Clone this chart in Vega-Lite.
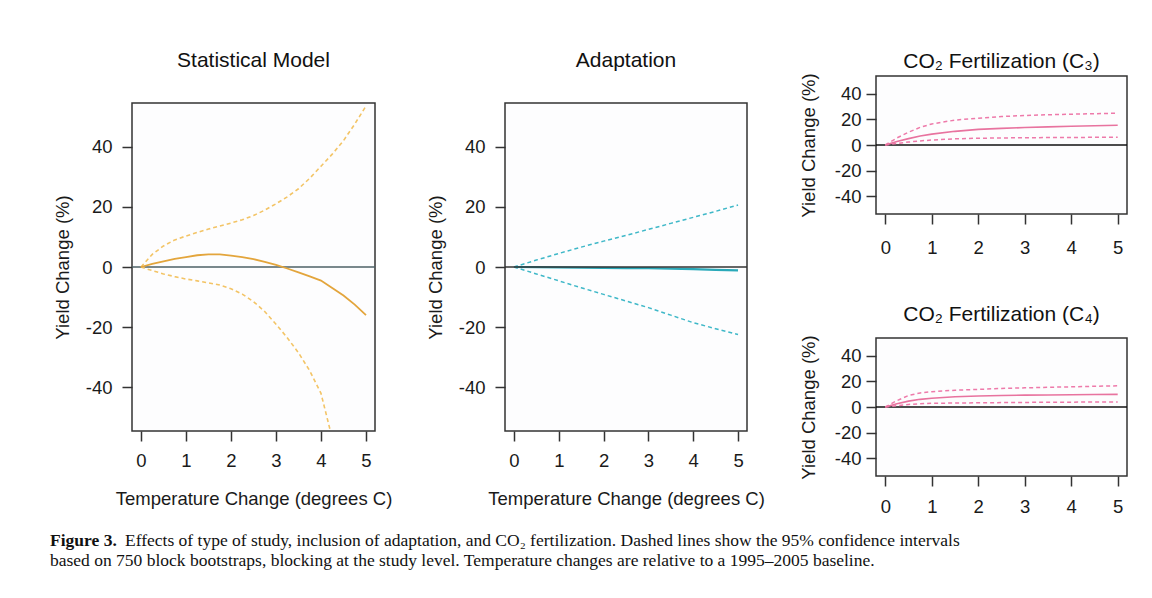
{
  "$schema": "https://vega.github.io/schema/vega-lite/v6.json",
  "padding": {"left": 50, "top": 50, "right": 0, "bottom": 0},
  "background": "white",
  "config": {
    "view": {"stroke": "#333333", "strokeWidth": 1.5, "fill": "#fdfdfe"},
    "axis": {"labelFont": "Liberation Sans", "labelFontSize": 18.5, "labelColor": "#1a1a1a", "labelOverlap": false, "tickCount": 10, "labelExpr": "'' + datum.value", "titleFont": "Liberation Sans", "titleFontSize": 18.5, "titleFontWeight": "normal", "titleColor": "#1a1a1a", "tickColor": "#333333", "tickWidth": 1.5, "tickSize": 10, "domain": false, "grid": false},
    "title": {"font": "Liberation Sans", "fontSize": 21, "fontWeight": "normal", "color": "#111111", "anchor": "middle"}
  },
  "datasets": {
    "curves": [
      {"p": "stat", "t": 0, "est": 0, "up": 0, "lo": 0},
      {"p": "stat", "t": 0.25, "est": 1.0, "up": 4.2, "lo": -1.2},
      {"p": "stat", "t": 0.5, "est": 1.9, "up": 7.0, "lo": -2.3},
      {"p": "stat", "t": 0.75, "est": 2.7, "up": 9.0, "lo": -3.2},
      {"p": "stat", "t": 1, "est": 3.3, "up": 10.3, "lo": -4.0},
      {"p": "stat", "t": 1.25, "est": 3.9, "up": 11.5, "lo": -4.6},
      {"p": "stat", "t": 1.5, "est": 4.2, "up": 12.6, "lo": -5.3},
      {"p": "stat", "t": 1.75, "est": 4.2, "up": 13.6, "lo": -6.0},
      {"p": "stat", "t": 2, "est": 3.8, "up": 14.6, "lo": -7.2},
      {"p": "stat", "t": 2.25, "est": 3.3, "up": 15.7, "lo": -9.0},
      {"p": "stat", "t": 2.5, "est": 2.6, "up": 17.1, "lo": -11.5},
      {"p": "stat", "t": 2.75, "est": 1.7, "up": 18.9, "lo": -14.8},
      {"p": "stat", "t": 3, "est": 0.7, "up": 21.0, "lo": -19.0},
      {"p": "stat", "t": 3.25, "est": -0.5, "up": 23.3, "lo": -23.5},
      {"p": "stat", "t": 3.5, "est": -1.8, "up": 26.0, "lo": -28.5},
      {"p": "stat", "t": 3.75, "est": -3.1, "up": 29.5, "lo": -34.5},
      {"p": "stat", "t": 4, "est": -4.5, "up": 33.5, "lo": -42.0},
      {"p": "stat", "t": 4.25, "est": -7.0, "up": 37.5, "lo": -57.0},
      {"p": "stat", "t": 4.5, "est": -9.5, "up": 42.0, "lo": -73.0},
      {"p": "stat", "t": 4.75, "est": -12.5, "up": 47.5, "lo": -90.0},
      {"p": "stat", "t": 5, "est": -16.0, "up": 53.5, "lo": -108.0},
      {"p": "adapt", "t": 0, "est": 0, "up": 0, "lo": 0},
      {"p": "adapt", "t": 0.5, "est": -0.05, "up": 2.3, "lo": -2.3},
      {"p": "adapt", "t": 1, "est": -0.1, "up": 4.5, "lo": -4.6},
      {"p": "adapt", "t": 1.5, "est": -0.2, "up": 6.6, "lo": -6.9},
      {"p": "adapt", "t": 2, "est": -0.3, "up": 8.6, "lo": -9.1},
      {"p": "adapt", "t": 2.5, "est": -0.35, "up": 10.5, "lo": -11.3},
      {"p": "adapt", "t": 3, "est": -0.4, "up": 12.5, "lo": -13.5},
      {"p": "adapt", "t": 3.5, "est": -0.55, "up": 14.5, "lo": -16.0},
      {"p": "adapt", "t": 4, "est": -0.7, "up": 16.5, "lo": -18.5},
      {"p": "adapt", "t": 4.5, "est": -0.95, "up": 18.5, "lo": -20.5},
      {"p": "adapt", "t": 5, "est": -1.1, "up": 20.6, "lo": -22.4},
      {"p": "c3", "t": 0, "est": 0, "up": 0, "lo": 0},
      {"p": "c3", "t": 0.25, "est": 2.8, "up": 5.5, "lo": 1.2},
      {"p": "c3", "t": 0.5, "est": 5.0, "up": 10.0, "lo": 2.3},
      {"p": "c3", "t": 0.75, "est": 7.0, "up": 13.8, "lo": 3.2},
      {"p": "c3", "t": 1, "est": 8.5, "up": 16.5, "lo": 3.9},
      {"p": "c3", "t": 1.5, "est": 10.7, "up": 19.5, "lo": 4.8},
      {"p": "c3", "t": 2, "est": 12.2, "up": 21.0, "lo": 5.3},
      {"p": "c3", "t": 2.5, "est": 13.0, "up": 22.3, "lo": 5.5},
      {"p": "c3", "t": 3, "est": 13.7, "up": 23.1, "lo": 5.7},
      {"p": "c3", "t": 3.5, "est": 14.2, "up": 23.7, "lo": 5.8},
      {"p": "c3", "t": 4, "est": 14.7, "up": 24.1, "lo": 5.9},
      {"p": "c3", "t": 4.5, "est": 15.1, "up": 24.5, "lo": 6.0},
      {"p": "c3", "t": 5, "est": 15.4, "up": 24.9, "lo": 6.0},
      {"p": "c4", "t": 0, "est": 0, "up": 0, "lo": 0},
      {"p": "c4", "t": 0.25, "est": 2.5, "up": 5.0, "lo": 1.0},
      {"p": "c4", "t": 0.5, "est": 4.6, "up": 9.0, "lo": 2.0},
      {"p": "c4", "t": 0.75, "est": 6.0, "up": 11.0, "lo": 2.6},
      {"p": "c4", "t": 1, "est": 6.9, "up": 12.0, "lo": 2.9},
      {"p": "c4", "t": 1.5, "est": 8.0, "up": 13.1, "lo": 3.1},
      {"p": "c4", "t": 2, "est": 8.6, "up": 13.8, "lo": 3.3},
      {"p": "c4", "t": 2.5, "est": 9.0, "up": 14.5, "lo": 3.45},
      {"p": "c4", "t": 3, "est": 9.3, "up": 15.0, "lo": 3.6},
      {"p": "c4", "t": 3.5, "est": 9.45, "up": 15.4, "lo": 3.7},
      {"p": "c4", "t": 4, "est": 9.6, "up": 15.8, "lo": 3.8},
      {"p": "c4", "t": 4.5, "est": 9.75, "up": 16.2, "lo": 3.9},
      {"p": "c4", "t": 5, "est": 9.9, "up": 16.6, "lo": 4.0}
    ],
    "caption": [
      {"line": 1, "label": "Figure 3.", "text": "Effects of type of study, inclusion of adaptation, and CO₂ fertilization. Dashed lines show the 95% confidence intervals"},
      {"line": 2, "label": "", "text": "based on 750 block bootstraps, blocking at the study level. Temperature changes are relative to a 1995–2005 baseline."}
    ]
  },
  "vconcat": [
    {
      "hconcat": [
        {
          "vconcat": [
            {
              "width": 243, "height": 1,
              "title": {"text": "Statistical Model", "offset": 5},
              "view": {"stroke": null, "fill": null},
              "data": {"values": []},
              "mark": {"type": "point", "opacity": 0}
            },
            {
              "width": 243, "height": 328,
              "data": {"name": "curves"},
              "transform": [{"filter": "datum.p === 'stat'"}],
              "layer": [
                {
                  "data": {"values": [{"zero": 0}]},
                  "mark": {"type": "rule", "color": "#4d6166", "strokeWidth": 1.4},
                  "encoding": {"y": {"field": "zero", "type": "quantitative", "scale": {"domain": [-54.5, 54.5], "nice": false}}}
                },
                {
                  "transform": [{"fold": ["up", "lo"], "as": ["s", "v"]}],
                  "mark": {"type": "line", "color": "#f3c466", "strokeWidth": 1.6, "strokeDash": [4, 3], "clip": true},
                  "encoding": {
                    "x": {"field": "t", "type": "quantitative", "scale": {"domain": [-0.2, 5.2], "nice": false, "zero": false}, "axis": {"values": [0, 1, 2, 3, 4, 5], "title": "Temperature Change (degrees C)", "labelPadding": 10, "titlePadding": 20}},
                    "y": {"field": "v", "type": "quantitative", "scale": {"domain": [-54.5, 54.5], "nice": false}, "axis": {"values": [-40, -20, 0, 20, 40], "title": "Yield Change (%)", "labelPadding": 10, "titlePadding": 13}},
                    "detail": {"field": "s"}
                  }
                },
                {
                  "mark": {"type": "line", "color": "#e3a53c", "strokeWidth": 1.8, "clip": true},
                  "encoding": {
                    "x": {"field": "t", "type": "quantitative"},
                    "y": {"field": "est", "type": "quantitative"}
                  }
                }
              ]
            }
          ],
          "spacing": 25
        },
        {
          "vconcat": [
            {
              "width": 242, "height": 1,
              "title": {"text": "Adaptation", "offset": 5},
              "view": {"stroke": null, "fill": null},
              "data": {"values": []},
              "mark": {"type": "point", "opacity": 0}
            },
            {
              "width": 242, "height": 328,
              "data": {"name": "curves"},
              "transform": [{"filter": "datum.p === 'adapt'"}],
              "layer": [
                {
                  "transform": [{"fold": ["up", "lo"], "as": ["s", "v"]}],
                  "mark": {"type": "line", "color": "#3fb8c8", "strokeWidth": 1.5, "strokeDash": [4, 3], "clip": true},
                  "encoding": {
                    "x": {"field": "t", "type": "quantitative", "scale": {"domain": [-0.2, 5.2], "nice": false, "zero": false}, "axis": {"values": [0, 1, 2, 3, 4, 5], "title": "Temperature Change (degrees C)", "labelPadding": 10, "titlePadding": 20}},
                    "y": {"field": "v", "type": "quantitative", "scale": {"domain": [-54.5, 54.5], "nice": false}, "axis": {"values": [-40, -20, 0, 20, 40], "title": "Yield Change (%)", "labelPadding": 10, "titlePadding": 13}},
                    "detail": {"field": "s"}
                  }
                },
                {
                  "mark": {"type": "line", "color": "#2aa9b9", "strokeWidth": 2.2, "clip": true},
                  "encoding": {
                    "x": {"field": "t", "type": "quantitative"},
                    "y": {"field": "est", "type": "quantitative"}
                  }
                },
                {
                  "data": {"values": [{"zero": 0}]},
                  "mark": {"type": "rule", "color": "#333333", "strokeWidth": 1.3},
                  "encoding": {"y": {"field": "zero", "type": "quantitative"}}
                }
              ]
            }
          ],
          "spacing": 25
        },
        {
          "vconcat": [
            {
              "width": 251, "height": 138,
              "title": {"text": "CO₂ Fertilization (C₃)", "offset": 1},
              "data": {"name": "curves"},
              "transform": [{"filter": "datum.p === 'c3'"}],
              "layer": [
                {
                  "data": {"values": [{"zero": 0}]},
                  "mark": {"type": "rule", "color": "#111111", "strokeWidth": 1.3},
                  "encoding": {"y": {"field": "zero", "type": "quantitative", "scale": {"domain": [-54, 54], "nice": false}}}
                },
                {
                  "transform": [{"fold": ["up", "lo"], "as": ["s", "v"]}],
                  "mark": {"type": "line", "color": "#ee7aaa", "strokeWidth": 1.5, "strokeDash": [4, 3], "clip": true},
                  "encoding": {
                    "x": {"field": "t", "type": "quantitative", "scale": {"domain": [-0.2, 5.2], "nice": false, "zero": false}, "axis": {"values": [0, 1, 2, 3, 4, 5], "title": null, "labelPadding": 14}},
                    "y": {"field": "v", "type": "quantitative", "scale": {"domain": [-54, 54], "nice": false}, "axis": {"values": [-40, -20, 0, 20, 40], "title": "Yield Change (%)", "labelPadding": 5, "titlePadding": 16}},
                    "detail": {"field": "s"}
                  }
                },
                {
                  "mark": {"type": "line", "color": "#e8739f", "strokeWidth": 1.6, "clip": true},
                  "encoding": {
                    "x": {"field": "t", "type": "quantitative"},
                    "y": {"field": "est", "type": "quantitative"}
                  }
                }
              ]
            },
            {
              "width": 251, "height": 138,
              "title": {"text": "CO₂ Fertilization (C₄)", "offset": 10},
              "data": {"name": "curves"},
              "transform": [{"filter": "datum.p === 'c4'"}],
              "layer": [
                {
                  "data": {"values": [{"zero": 0}]},
                  "mark": {"type": "rule", "color": "#111111", "strokeWidth": 1.3},
                  "encoding": {"y": {"field": "zero", "type": "quantitative", "scale": {"domain": [-54, 54], "nice": false}}}
                },
                {
                  "transform": [{"fold": ["up", "lo"], "as": ["s", "v"]}],
                  "mark": {"type": "line", "color": "#ee7aaa", "strokeWidth": 1.5, "strokeDash": [4, 3], "clip": true},
                  "encoding": {
                    "x": {"field": "t", "type": "quantitative", "scale": {"domain": [-0.2, 5.2], "nice": false, "zero": false}, "axis": {"values": [0, 1, 2, 3, 4, 5], "title": null, "labelPadding": 11}},
                    "y": {"field": "v", "type": "quantitative", "scale": {"domain": [-54, 54], "nice": false}, "axis": {"values": [-40, -20, 0, 20, 40], "title": "Yield Change (%)", "labelPadding": 5, "titlePadding": 16}},
                    "detail": {"field": "s"}
                  }
                },
                {
                  "mark": {"type": "line", "color": "#e8739f", "strokeWidth": 1.6, "clip": true},
                  "encoding": {
                    "x": {"field": "t", "type": "quantitative"},
                    "y": {"field": "est", "type": "quantitative"}
                  }
                }
              ]
            }
          ],
          "spacing": 45
        }
      ],
      "spacing": 32
    },
    {
      "width": 1060, "height": 46,
      "view": {"stroke": null, "fill": null},
      "data": {"name": "caption"},
      "layer": [
        {
          "transform": [{"filter": "datum.line === 1"}],
          "mark": {"type": "text", "align": "left", "baseline": "middle", "font": "Liberation Serif", "fontSize": 17.5, "fontWeight": "bold", "color": "#111111", "dx": -82},
          "encoding": {
            "x": {"value": 0},
            "y": {"field": "line", "type": "quantitative", "scale": {"domain": [0.5, 2.5], "reverse": true}, "axis": null},
            "text": {"field": "label"}
          }
        },
        {
          "transform": [{"filter": "datum.line === 1"}],
          "mark": {"type": "text", "align": "left", "baseline": "middle", "font": "Liberation Serif", "fontSize": 17.5, "color": "#111111", "dx": -7},
          "encoding": {
            "x": {"value": 0},
            "y": {"field": "line", "type": "quantitative", "axis": null},
            "text": {"field": "text"}
          }
        },
        {
          "transform": [{"filter": "datum.line === 2"}],
          "mark": {"type": "text", "align": "left", "baseline": "middle", "font": "Liberation Serif", "fontSize": 17.5, "color": "#111111", "dx": -82},
          "encoding": {
            "x": {"value": 0},
            "y": {"field": "line", "type": "quantitative", "axis": null},
            "text": {"field": "text"}
          }
        }
      ]
    }
  ],
  "spacing": 11
}
